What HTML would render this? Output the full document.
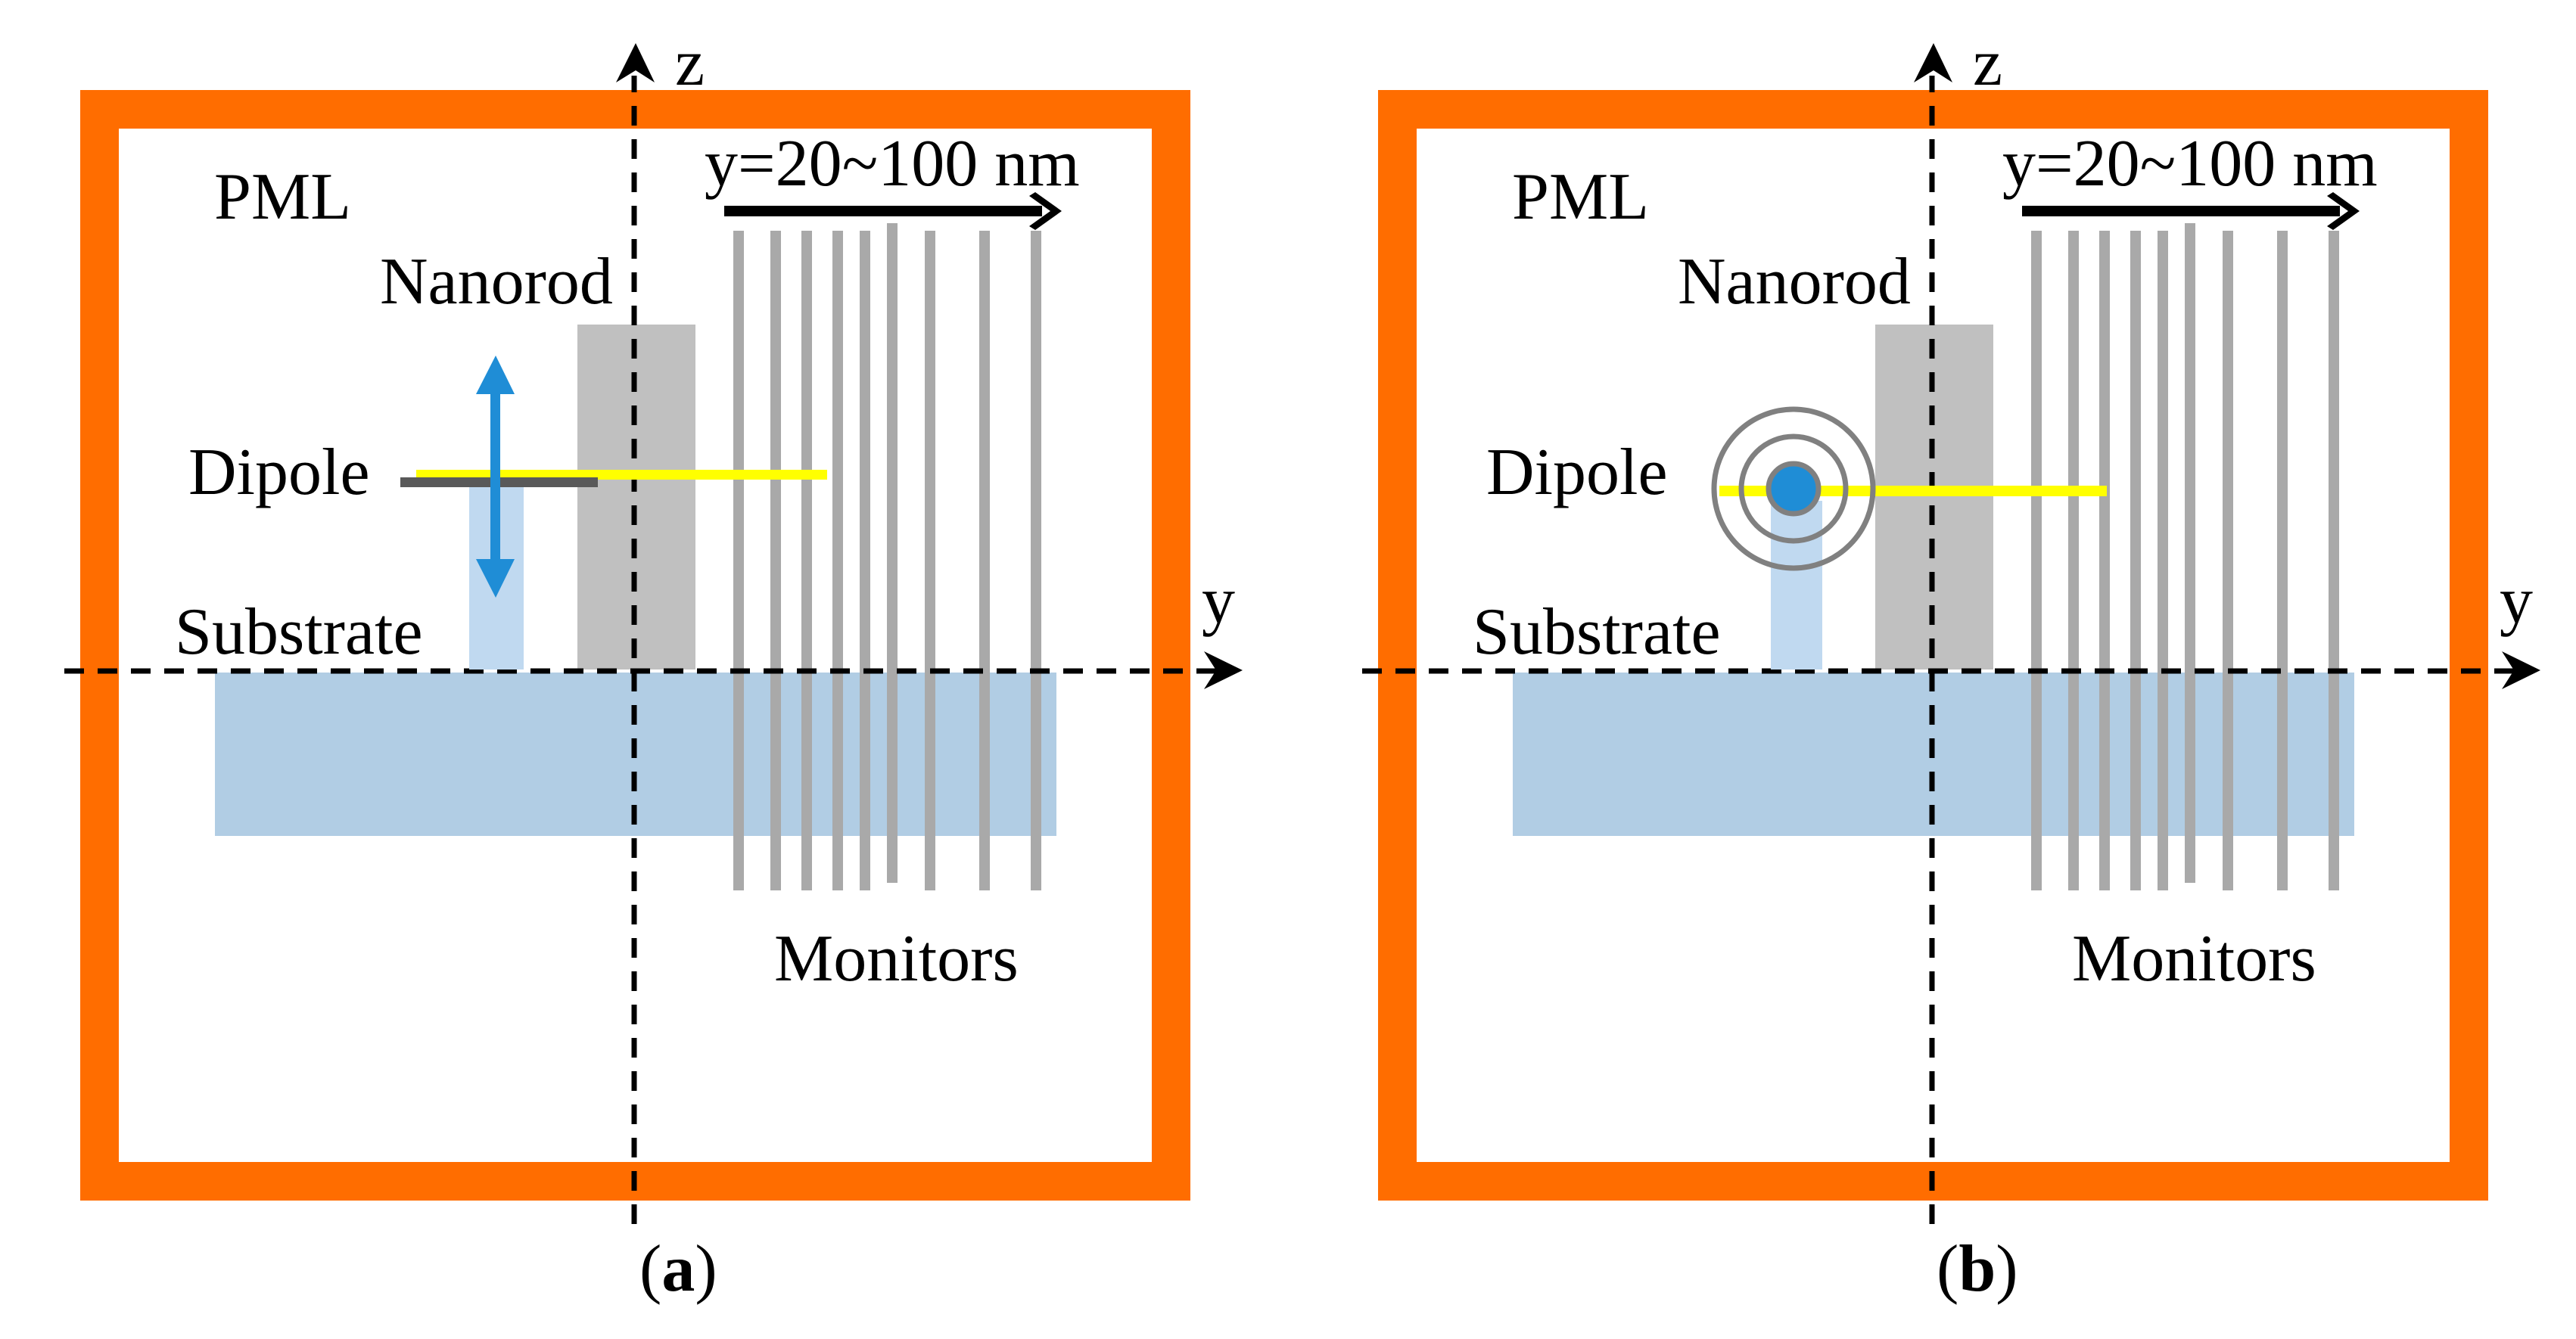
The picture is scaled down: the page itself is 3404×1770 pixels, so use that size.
<!DOCTYPE html>
<html><head><meta charset="utf-8"><style>
html,body{margin:0;padding:0;background:#fff;}
svg{display:block;}
</style></head><body>
<svg width="3404" height="1770" viewBox="0 0 3404 1770" xmlns="http://www.w3.org/2000/svg">
<defs>
<g id="panel">
  <rect x="131.5" y="144.5" width="1416" height="1417" fill="none" stroke="#ff6d00" stroke-width="51"/>
  <rect x="284" y="889" width="1112" height="216" fill="#b1cde4"/>
  <rect x="763" y="429" width="156" height="456" fill="#c0c0c0"/>
  <g fill="#a9a9a9">
    <rect x="969" y="305" width="14" height="872"/>
    <rect x="1018" y="305" width="14" height="872"/>
    <rect x="1059" y="305" width="14" height="872"/>
    <rect x="1100" y="305" width="14" height="872"/>
    <rect x="1136" y="305" width="14" height="872"/>
    <rect x="1172" y="295" width="14" height="872"/>
    <rect x="1222" y="305" width="14" height="872"/>
    <rect x="1294" y="305" width="14" height="872"/>
    <rect x="1362" y="305" width="14" height="872"/>
  </g>
  <rect x="957" y="272" width="420" height="14" fill="#000"/>
  <polygon points="1368,254 1403,279 1368,304 1360,299 1388,279 1360,259" fill="#000"/>
  <line x1="838" y1="1618" x2="838" y2="100" stroke="#000" stroke-width="7" stroke-dasharray="26 18"/>
  <polygon points="840,57 865,109 840,93 814,109" fill="#000"/>
  <line x1="85" y1="887" x2="1610" y2="887" stroke="#000" stroke-width="7" stroke-dasharray="26 18"/>
  <polygon points="1642,886 1591,861 1607,886 1591,911" fill="#000"/>
  <g font-family="Liberation Serif, serif" font-size="88" fill="#000">
    <text x="931" y="245">y=20~100 nm</text>
    <text x="892" y="112">z</text>
    <text x="1588" y="823">y</text>
    <text x="283" y="289">PML</text>
    <text x="502" y="401">Nanorod</text>
    <text x="249" y="653">Dipole</text>
    <text x="231" y="864">Substrate</text>
    <text x="1023" y="1296">Monitors</text>
  </g>
</g>
</defs>

<use href="#panel"/>
<rect x="620" y="644" width="72" height="241" fill="#c0d9f0"/>
<rect x="550" y="621" width="543" height="13" fill="#ffff00"/>
<rect x="529" y="631" width="261" height="13" fill="#595959"/>
<rect x="648" y="515" width="13" height="230" fill="#1f8dd6"/>
<polygon points="655,470 680,521 629,521" fill="#1f8dd6"/>
<polygon points="655,790 680,739 629,739" fill="#1f8dd6"/>
<text x="845" y="1706" font-family="Liberation Serif, serif" font-size="88" fill="#000">(<tspan font-weight="bold">a</tspan>)</text>

<g transform="translate(1715,0)"><use href="#panel"/></g>
<rect x="2340" y="662" width="68" height="223" fill="#c0d9f0"/>
<rect x="2272" y="642" width="512" height="14" fill="#ffff00"/>
<circle cx="2370" cy="646" r="105" fill="none" stroke="#808080" stroke-width="7"/>
<circle cx="2370" cy="646" r="69" fill="none" stroke="#808080" stroke-width="7"/>
<circle cx="2370" cy="646" r="33" fill="#1f8dd6" stroke="#808080" stroke-width="7"/>
<text x="2559" y="1706" font-family="Liberation Serif, serif" font-size="88" fill="#000">(<tspan font-weight="bold">b</tspan>)</text>
</svg>
</body></html>
